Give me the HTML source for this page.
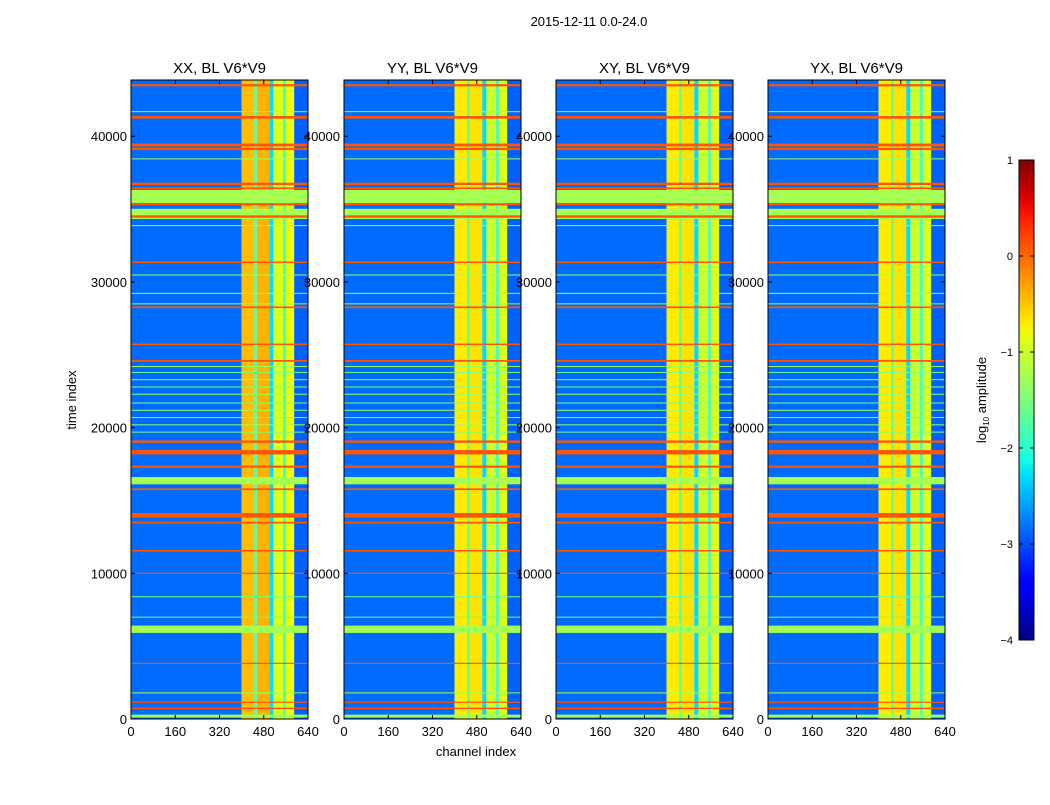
<!DOCTYPE html>
<html><head><meta charset="utf-8"><style>
body{margin:0;background:#fff;width:1050px;height:800px;overflow:hidden;font-family:"Liberation Sans",sans-serif}
svg text{font-family:"Liberation Sans",sans-serif;fill:#000}
</style></head><body>
<svg id="fig" width="1050" height="800" xmlns="http://www.w3.org/2000/svg">
<text x="589" y="26" font-size="13" text-anchor="middle">2015-12-11 0.0-24.0</text>
<text x="76" y="400" font-size="13" text-anchor="middle" transform="rotate(-90 76 400)">time index</text>
<text x="476" y="756" font-size="13" text-anchor="middle">channel index</text>
<g id="panels"></g>
<g id="cbar"></g>
</svg>
<script>
const panelTitles = ["XX, BL V6*V9","YY, BL V6*V9","XY, BL V6*V9","YX, BL V6*V9"];
const panelLeft = [131,344,556,768];
const xTicks = [0,160,320,480,640];
const yTicks = [0,10000,20000,30000,40000];
const cbTicks = [1,0,-1,-2,-3,-4];
const cbTickLabels = ["1","0","\u22121","\u22122","\u22123","\u22124"];
// channel bands: [startChannel, endChannel, log10 level]
const bandStart = [0,400,445,455,500,515,550,560,590];
const bandEnd   = [400,445,455,500,515,550,560,590,640];
const bandLevelXX = [-2.85,-0.45,-1.7,-0.4,-2.3,-0.9,-1.9,-0.8,-2.9];
const bandLevelOther = [-2.85,-0.7,-1.7,-0.65,-2.3,-1.0,-1.9,-0.9,-2.9];
// horizontal lines: time index, thickness (time units), level
const lineT = [43500,41690,41300,39400,39130,38450,36730,36430,35860,35330,34670,34490,33870,31350,30480,29220,28500,28260,25720,24580,24200,23800,23300,22800,22300,21700,21200,20700,20200,19700,19040,18310,17320,16360,15770,13980,13480,11550,10000,8400,7000,6160,3820,1800,1150,730,200];
const lineW = [150,60,180,200,160,60,160,120,900,150,700,160,60,100,60,60,60,120,100,120,50,50,50,50,50,50,50,50,50,50,160,300,150,500,120,320,120,100,80,50,50,500,80,50,80,100,200];
const lineLevel = [0.1,-1.3,0.1,0.1,0.1,-1.3,0.1,0.1,-1.25,0.1,-1.25,0.1,-1.3,0.1,-1.3,-1.3,-1.3,0.1,0.1,0.1,-1.3,-1.5,-1.3,-1.5,-1.3,-1.5,-1.3,-1.5,-1.3,-1.5,0.1,0.1,0.1,-1.25,0.1,0.1,0.1,0.1,0.1,-1.6,-1.6,-1.25,0.1,-1.3,0.1,0.1,-1.3];
const tMax = 43860, chMax = 640, vmin = -4, vmax = 1;
const pTop = 80, pBot = 719, pW = 177;

const R=[[0,0],[0.35,0],[0.66,1],[0.89,1],[1,0.5]];
const G=[[0,0],[0.125,0],[0.375,1],[0.64,1],[0.91,0],[1,0]];
const B=[[0,0.5],[0.11,1],[0.34,1],[0.65,0],[1,0]];
function seg(p,x){for(let i=1;i<p.length;i++){if(x<=p[i][0]){const a=p[i-1],b=p[i];return a[1]+(b[1]-a[1])*(x-a[0])/(b[0]-a[0]);}}return p[p.length-1][1];}
function jet(v){
  const x = Math.max(0,Math.min(1,(v-vmin)/(vmax-vmin)));
  return `rgb(${Math.round(255*seg(R,x))},${Math.round(255*seg(G,x))},${Math.round(255*seg(B,x))})`;
}
const NS = "http://www.w3.org/2000/svg";
function mk(tag, attrs, parent){
  const e = document.createElementNS(NS, tag);
  for (const k in attrs) e.setAttribute(k, attrs[k]);
  parent.appendChild(e); return e;
}
const panels = document.getElementById('panels');
panelLeft.forEach((L, pi)=>{
  const xs = ch => L + ch/chMax*pW;
  const ys = t => pBot - t/tMax*(pBot-pTop);
  const g = mk('g',{},panels);
  
  
  const levels = pi===0 ? bandLevelXX : bandLevelOther;
  bandStart.forEach((s,i)=>{
    const r = mk('rect',{x:xs(s),y:pTop,width:xs(bandEnd[i])-xs(s),height:pBot-pTop,fill:jet(levels[i])},g);
    
    
  });
  lineT.forEach((t,i)=>{
    const y1 = ys(t+lineW[i]/2), y2 = ys(t-lineW[i]/2);
    const r = mk('rect',{x:L,y:y1,width:pW,height:Math.max(1,y2-y1),fill:jet(lineLevel[i])},g);
    
    
  });
  mk('rect',{x:L,y:pTop,width:pW,height:pBot-pTop,fill:'none',stroke:'#000','stroke-width':1},g);
  const tt = mk('text',{x:L+pW/2,y:pTop-7,'font-size':15,'text-anchor':'middle'},g);
  tt.textContent = panelTitles[pi];
  
  
  xTicks.forEach(v=>{
    mk('line',{x1:xs(v),x2:xs(v),y1:pBot,y2:pBot-4,stroke:'#000'},g);
    mk('line',{x1:xs(v),x2:xs(v),y1:pTop,y2:pTop+4,stroke:'#000'},g);
    const t = mk('text',{x:xs(v),y:pBot+17,'font-size':13,'text-anchor':'middle'},g);
    t.textContent = v;
    
    
  });
  yTicks.forEach(v=>{
    mk('line',{x1:L,x2:L+4,y1:ys(v),y2:ys(v),stroke:'#000'},g);
    mk('line',{x1:L+pW,x2:L+pW-4,y1:ys(v),y2:ys(v),stroke:'#000'},g);
    const t = mk('text',{x:L-4,y:ys(v)+5,'font-size':13,'text-anchor':'end'},g);
    t.textContent = v;
    
    
  });
});
// colorbar
const cb = document.getElementById('cbar');
const cbX=1019, cbW=15, cbTop=160, cbBot=640;
const cy = v => cbBot - (v-vmin)/(vmax-vmin)*(cbBot-cbTop);
const defs = mk('defs',{},cb);
const grad = mk('linearGradient',{id:'jetg',x1:0,y1:1,x2:0,y2:0},defs);
for(let i=0;i<=40;i++){ mk('stop',{offset:i/40,'stop-color':jet(vmin+(vmax-vmin)*i/40)},grad); }
mk('rect',{x:cbX,y:cbTop,width:cbW,height:cbBot-cbTop,fill:'url(#jetg)',stroke:'#000','stroke-width':1},cb);
cbTicks.forEach((v,i)=>{
  mk('line',{x1:cbX,x2:cbX+4,y1:cy(v),y2:cy(v),stroke:'#000'},cb);
  mk('line',{x1:cbX+cbW,x2:cbX+cbW-4,y1:cy(v),y2:cy(v),stroke:'#000'},cb);
  const t = mk('text',{x:cbX-6,y:cy(v)+4,'font-size':11,'text-anchor':'end'},cb);
  t.textContent = cbTickLabels[i];
  
  
});
const lab = mk('text',{x:986,y:400,'font-size':13,'text-anchor':'middle',transform:'rotate(-90 986 400)'},cb);
lab.innerHTML = 'log<tspan font-size="8" dy="3">10</tspan><tspan dy="-3"> amplitude</tspan>';


</script>
</body></html>
